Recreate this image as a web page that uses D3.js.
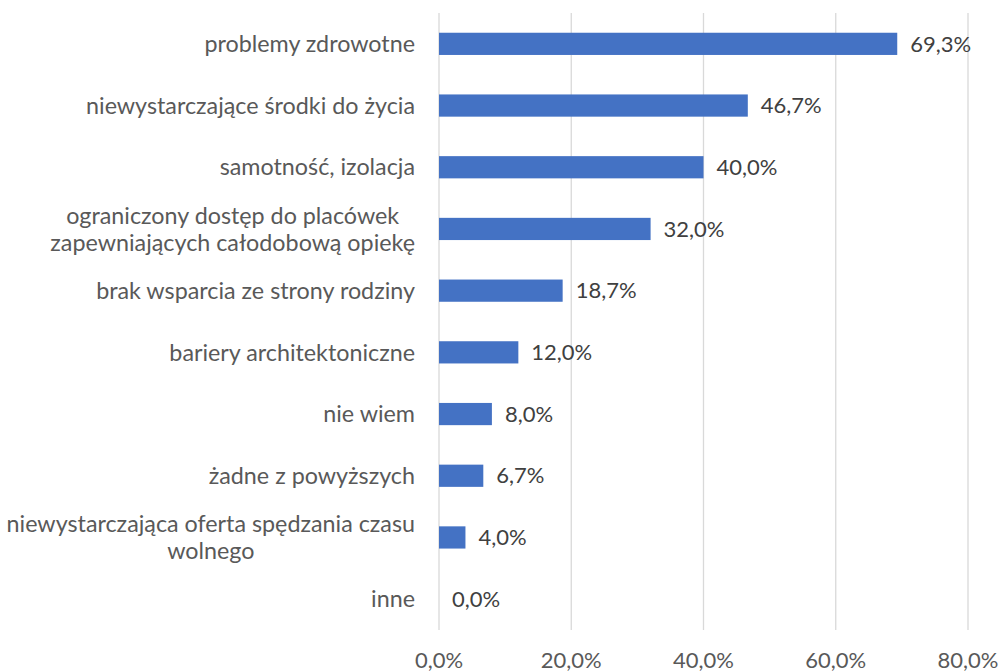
<!DOCTYPE html>
<html><head><meta charset="utf-8">
<script src="https://cdn.jsdelivr.net/npm/d3@7/dist/d3.min.js"></script>
<style>body{margin:0;background:#fff}svg{display:block}text{font-family:Lato,"Open Sans",sans-serif}</style>
</head><body>
<svg id="c" width="1000" height="672"></svg>
<script>
const categories = [
  ["problemy zdrowotne"],
  ["niewystarczające środki do życia"],
  ["samotność, izolacja"],
  ["ograniczony dostęp do placówek ", "zapewniających całodobową opiekę"],
  ["brak wsparcia ze strony rodziny"],
  ["bariery architektoniczne"],
  ["nie wiem"],
  ["żadne z powyższych"],
  ["niewystarczająca oferta spędzania czasu", "wolnego"],
  ["inne"]
];
const values = [69.3, 46.7, 40.0, 32.0, 18.7, 12.0, 8.0, 6.7, 4.0, 0.0];
const xTicks = [0, 20, 40, 60, 80];

const fmt = v => v.toFixed(1).replace(".", ",") + "%";
const svg = d3.select("#c");
const x = d3.scaleLinear().domain([0, 80]).range([439, 968]);
const y = d3.scaleBand().domain(d3.range(categories.length)).range([13, 630]).paddingInner(0.64).paddingOuter(0.32);

// gridlines
svg.append("g").selectAll("line").data(xTicks).join("line")
  .attr("x1", d => x(d)).attr("x2", d => x(d))
  .attr("y1", 13).attr("y2", 630)
  .attr("stroke", "#d9d9d9").attr("stroke-width", 1.3);

// bars
svg.append("g").selectAll("rect").data(values).join("rect")
  .attr("x", x(0)).attr("y", (d, i) => y(i))
  .attr("width", d => x(d) - x(0)).attr("height", y.bandwidth())
  .attr("fill", "#4472C4");

// value labels
svg.append("g").selectAll("text").data(values).join("text")
  .attr("x", d => x(d) + 13).attr("y", (d, i) => y(i) + y.bandwidth() / 2)
  .attr("dy", "0.35em").attr("font-size", 22).attr("fill", "#404040")
  .text(fmt);

// category labels
const lab = svg.append("g");
categories.forEach((lines, i) => {
  const cy = y(i) + y.bandwidth() / 2;
  const lh = 27;
  const g = lab.append("g");
  const ts = lines.map((t, k) => g.append("text")
    .attr("y", cy + (k - (lines.length - 1) / 2) * lh)
    .attr("dy", "0.35em").attr("font-size", 23.3).attr("fill", "#595959")
    .attr("text-anchor", "middle").text(t));
  const maxW = d3.max(ts, t => t.node().getComputedTextLength());
  ts.forEach(t => t.attr("x", 415 - maxW / 2));
});

// x tick labels
svg.append("g").selectAll("text").data(xTicks).join("text")
  .attr("x", d => x(d)).attr("y", 660).attr("dy", "0.35em")
  .attr("text-anchor", "middle").attr("font-size", 22).attr("fill", "#595959")
  .text(d => fmt(d));
</script>
</body></html>
